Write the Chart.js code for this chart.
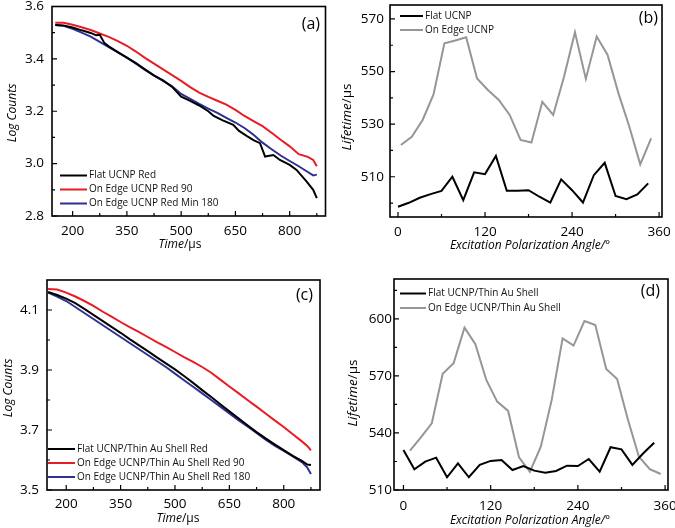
<!DOCTYPE html>
<html>
<head>
<meta charset="utf-8">
<script src="https://cdn.jsdelivr.net/npm/chart.js@4.4.1/dist/chart.umd.min.js"></script>
<style>
  html, body { margin: 0; padding: 0; background: #fff; }
  #wrap { position: relative; width: 675px; height: 528px; }
  canvas { position: absolute; }
</style>
</head>
<body>
<div id="wrap">
  <canvas id="chartA" width="337" height="264" style="left:0;top:0"></canvas>
  <canvas id="chartB" width="338" height="264" style="left:337px;top:0"></canvas>
  <canvas id="chartC" width="337" height="264" style="left:0;top:264px"></canvas>
  <canvas id="chartD" width="338" height="264" style="left:337px;top:264px"></canvas>
</div>
<script>
// (a) decay curves, bare UCNP
let timeA = [152, 175, 200, 225, 250, 275, 300, 325, 350, 375, 400, 425, 450, 475, 500, 525, 550, 575, 600, 625, 650, 675, 700, 725, 750, 775, 800, 825, 850, 865, 875];
let redA = [3.538, 3.538, 3.530, 3.521, 3.510, 3.497, 3.484, 3.468, 3.450, 3.428, 3.404, 3.382, 3.360, 3.338, 3.316, 3.292, 3.271, 3.255, 3.240, 3.225, 3.205, 3.182, 3.162, 3.143, 3.118, 3.091, 3.066, 3.036, 3.026, 3.014, 2.990];
let blueA = [3.529, 3.526, 3.515, 3.500, 3.485, 3.465, 3.445, 3.425, 3.405, 3.382, 3.358, 3.337, 3.316, 3.295, 3.266, 3.247, 3.228, 3.210, 3.194, 3.175, 3.157, 3.136, 3.110, 3.080, 3.055, 3.031, 3.010, 2.990, 2.968, 2.955, 2.958];
let timeFlatA = [152, 175, 200, 225, 250, 265, 275, 288, 300, 325, 350, 375, 400, 425, 450, 475, 500, 525, 550, 575, 590, 615, 644, 660, 681, 700, 718, 732, 755, 773, 800, 819, 847, 865, 875];
let flatA = [3.529, 3.527, 3.520, 3.509, 3.499, 3.490, 3.492, 3.460, 3.448, 3.426, 3.405, 3.384, 3.360, 3.336, 3.318, 3.293, 3.256, 3.240, 3.222, 3.200, 3.182, 3.165, 3.148, 3.125, 3.106, 3.090, 3.078, 3.027, 3.033, 3.014, 2.995, 2.976, 2.931, 2.900, 2.868];

// (b) lifetime vs polarization angle, bare UCNP
let angleFlatB = [0, 15, 30, 45, 60, 75, 90, 105, 120, 135, 150, 165, 180, 195, 210, 225, 240, 255, 270, 285, 300, 315, 330, 345];
let flatB = [498.6, 500.1, 502.0, 503.4, 504.6, 510.0, 501.1, 511.7, 511.0, 517.9, 504.7, 504.7, 504.9, 502.4, 500.2, 509.0, 504.9, 500.2, 510.6, 515.3, 502.7, 501.5, 503.3, 507.5];
let angleEdgeB = [4, 19, 34, 49, 64, 79, 94, 109, 124, 139, 154, 169, 184, 199, 214, 229, 244, 259, 274, 289, 304, 319, 334, 349];
let edgeB = [522.1, 525.2, 531.6, 541.3, 560.7, 561.8, 563.0, 547.4, 543.0, 539.2, 533.5, 524.0, 523.0, 538.5, 533.5, 548.1, 564.9, 547.2, 563.3, 556.3, 541.7, 529.0, 514.7, 524.6];

// (c) decay curves, thin Au shell
let timeC = [150, 175, 200, 225, 250, 275, 300, 325, 350, 375, 400, 425, 450, 475, 500, 525, 550, 575, 600, 625, 650, 675, 700, 725, 750, 775, 800, 825, 850, 865, 875];
let flatC = [4.160, 4.150, 4.138, 4.123, 4.104, 4.084, 4.064, 4.044, 4.024, 4.003, 3.983, 3.963, 3.942, 3.922, 3.902, 3.880, 3.857, 3.833, 3.810, 3.786, 3.762, 3.739, 3.716, 3.693, 3.672, 3.652, 3.633, 3.614, 3.597, 3.585, 3.583];
let redC = [4.170, 4.168, 4.158, 4.145, 4.130, 4.114, 4.095, 4.078, 4.060, 4.043, 4.027, 4.010, 3.993, 3.977, 3.960, 3.943, 3.927, 3.910, 3.891, 3.868, 3.845, 3.823, 3.800, 3.778, 3.755, 3.732, 3.710, 3.686, 3.662, 3.647, 3.632];
let blueC = [4.158, 4.145, 4.130, 4.110, 4.090, 4.070, 4.050, 4.030, 4.010, 3.990, 3.970, 3.950, 3.930, 3.910, 3.888, 3.866, 3.844, 3.822, 3.800, 3.778, 3.755, 3.733, 3.712, 3.690, 3.668, 3.648, 3.630, 3.612, 3.593, 3.575, 3.553];

// (d) lifetime vs polarization angle, thin Au shell
let angleFlatD = [0, 15, 30, 45, 60, 75, 90, 105, 120, 135, 150, 165, 180, 195, 210, 225, 240, 255, 270, 285, 300, 315, 330, 345];
let flatD = [531.1, 520.9, 524.9, 527.0, 516.7, 524.0, 516.7, 523.2, 525.3, 525.8, 520.5, 522.6, 520.2, 519.1, 520.0, 522.8, 522.6, 526.3, 519.6, 532.5, 531.4, 523.2, 529.3, 534.9];
let angleEdgeD = [9, 24, 39, 54, 69, 84, 99, 114, 129, 144, 159, 174, 189, 204, 219, 234, 249, 264, 279, 294, 309, 324, 339, 354];
let edgeD = [530.7, 537.7, 545.1, 571.1, 576.7, 595.4, 586.7, 567.9, 556.5, 551.6, 527.2, 519.6, 532.8, 557.4, 589.8, 586.0, 598.9, 596.8, 573.7, 568.4, 546.8, 527.5, 520.9, 518.4];

// tick values
let timeTicks = [200, 350, 500, 650, 800];
let timeMinor = [275, 425, 575, 725, 875];
let angleTicks = [0, 120, 240, 360];
let angleMinor = [60, 180, 300];
let logTicksA = [2.8, 3.0, 3.2, 3.4, 3.6];
let logMinorA = [2.9, 3.1, 3.3, 3.5];
let lifeTicksB = [510, 530, 550, 570];
let lifeMinorB = [500, 520, 540, 560];
let logTicksC = [3.5, 3.7, 3.9, 4.1];
let logMinorC = [3.6, 3.8, 4.0];
let lifeTicksD = [510, 540, 570, 600];
let lifeMinorD = [525, 555, 585, 615];

const RED = 'rgb(232, 28, 36)';
const BLUE = 'rgb(46, 49, 146)';
const BLACK = '#000';
const GRAY = 'rgb(150, 150, 150)';
const FONT = "'Open Sans', 'DejaVu Sans', sans-serif";

function pts(xs, ys) {
  return xs.map((x, i) => ({ x: x, y: ys[i] }));
}

function drawParts(ctx, parts, size) {
  // parts: [text, italic]
  let w = 0;
  parts.forEach(p => {
    ctx.font = (p[1] ? 'italic ' : '') + size + 'px ' + FONT;
    w += ctx.measureText(p[0]).width;
  });
  let x = -w / 2;
  parts.forEach(p => {
    ctx.font = (p[1] ? 'italic ' : '') + size + 'px ' + FONT;
    ctx.fillText(p[0], x, 0);
    x += ctx.measureText(p[0]).width;
  });
}

// frame, inward ticks, legend, axis titles and panel letter
const decor = {
  id: 'decor',
  afterDraw(chart, args, o) {
    const ctx = chart.ctx;
    const a = chart.chartArea;
    const xs = chart.scales.x, ys = chart.scales.y;
    ctx.save();
    ctx.strokeStyle = '#000';
    ctx.lineWidth = 1.6;
    ctx.strokeRect(a.left, a.top, a.right - a.left, a.bottom - a.top);

    ctx.lineWidth = 1.2;
    ctx.beginPath();
    o.xMajor.forEach(v => { let p = xs.getPixelForValue(v); ctx.moveTo(p, a.bottom); ctx.lineTo(p, a.bottom - 5); });
    o.xMinor.forEach(v => { let p = xs.getPixelForValue(v); ctx.moveTo(p, a.bottom); ctx.lineTo(p, a.bottom - 3); });
    o.yMajor.forEach(v => { let p = ys.getPixelForValue(v); ctx.moveTo(a.left, p); ctx.lineTo(a.left + 5, p); });
    o.yMinor.forEach(v => { let p = ys.getPixelForValue(v); ctx.moveTo(a.left, p); ctx.lineTo(a.left + 3, p); });
    ctx.stroke();

    // legend
    ctx.textBaseline = 'middle';
    ctx.textAlign = 'left';
    ctx.font = '10px ' + FONT;
    chart.data.datasets.forEach((ds, i) => {
      let y = o.legend.y + i * o.legend.dy;
      ctx.strokeStyle = ds.borderColor;
      ctx.lineWidth = 2;
      ctx.beginPath();
      ctx.moveTo(o.legend.x0, y);
      ctx.lineTo(o.legend.x1, y);
      ctx.stroke();
      ctx.fillStyle = '#111';
      ctx.fillText(ds.label, o.legend.x1 + 2, y);
    });

    // panel letter
    ctx.font = '16px ' + FONT;
    ctx.textAlign = 'right';
    ctx.fillStyle = '#000';
    ctx.fillText(o.letter[0], o.letter[1], o.letter[2]);

    // axis titles
    ctx.textAlign = 'left';
    ctx.save();
    ctx.translate(o.xTitle.x, o.xTitle.y);
    drawParts(ctx, o.xTitle.parts, o.xTitle.size);
    ctx.restore();
    ctx.save();
    ctx.translate(o.yTitle.x, o.yTitle.y);
    ctx.rotate(-Math.PI / 2);
    drawParts(ctx, o.yTitle.parts, o.yTitle.size);
    ctx.restore();
    ctx.restore();
  }
};

function makeChart(id, p) {
  return new Chart(document.getElementById(id), {
    type: 'line',
    data: { datasets: p.datasets },
    options: {
      responsive: false,
      animation: false,
      events: [],
      layout: { autoPadding: false, padding: { top: p.top, right: p.right, left: 0, bottom: 0 } },
      elements: { point: { radius: 0 }, line: { borderWidth: 2, tension: 0 } },
      plugins: {
        legend: { display: false },
        tooltip: { enabled: false },
        decor: p.decor
      },
      scales: {
        x: {
          type: 'linear',
          min: p.xMin, max: p.xMax,
          grid: { display: false, drawTicks: false },
          border: { display: false },
          afterBuildTicks: s => { s.ticks = p.xTicks.map(v => ({ value: v })); },
          afterFit: s => { s.height = p.xHeight; s.paddingLeft = 0; s.paddingRight = 0; },
          ticks: { autoSkip: false, maxRotation: 0, padding: p.xPad, color: '#000', font: { family: FONT, size: 13.5 } }
        },
        y: {
          type: 'linear',
          min: p.yMin, max: p.yMax,
          grid: { display: false, drawTicks: false },
          border: { display: false },
          afterBuildTicks: s => { s.ticks = p.yTicks.map(v => ({ value: v })); },
          afterFit: s => { s.width = p.yWidth; s.paddingTop = 0; s.paddingBottom = 0; },
          ticks: { autoSkip: false, padding: p.yPad, color: '#000', font: { family: FONT, size: 13.5 }, callback: p.yFmt }
        }
      }
    },
    plugins: [decor]
  });
}

makeChart('chartA', {
  datasets: [
    { label: 'Flat UCNP Red', data: pts(timeFlatA, flatA), borderColor: BLACK },
    { label: 'On Edge UCNP Red 90', data: pts(timeA, redA), borderColor: RED },
    { label: 'On Edge UCNP Red Min 180', data: pts(timeA, blueA), borderColor: BLUE }
  ],
  top: 6.5, right: 11.5, yWidth: 52, xHeight: 48,
  xMin: 143, xMax: 899, yMin: 2.8, yMax: 3.6,
  xTicks: timeTicks, yTicks: logTicksA, xPad: 7, yPad: 8,
  yFmt: v => v.toFixed(1),
  decor: {
    xMajor: timeTicks, xMinor: timeMinor, yMajor: logTicksA, yMinor: logMinorA,
    legend: { x0: 60, x1: 87, y: 175.5, dy: 14 },
    letter: ['(a)', 320, 24],
    xTitle: { x: 180, y: 245, size: 12, parts: [['Time', true], ['/μs', false]] },
    yTitle: { x: 12.5, y: 113, size: 12, parts: [['Log Counts', true]] }
  }
});

makeChart('chartB', {
  datasets: [
    { label: 'Flat UCNP', data: pts(angleFlatB, flatB), borderColor: BLACK },
    { label: 'On Edge UCNP', data: pts(angleEdgeB, edgeB), borderColor: GRAY }
  ],
  top: 5, right: 13, yWidth: 53, xHeight: 47,
  xMin: -11, xMax: 364, yMin: 494.7, yMax: 575.3,
  xTicks: angleTicks, yTicks: lifeTicksB, xPad: 7, yPad: 6,
  yFmt: v => String(v),
  decor: {
    xMajor: angleTicks, xMinor: angleMinor, yMajor: lifeTicksB, yMinor: lifeMinorB,
    legend: { x0: 63, x1: 86, y: 16, dy: 14 },
    letter: ['(b)', 321, 18.5],
    xTitle: { x: 193, y: 246, size: 12, parts: [['Excitation Polarization Angle/°', true]] },
    yTitle: { x: 10, y: 117, size: 13.5, parts: [['Lifetime', true], ['/μs', false]] }
  }
});

makeChart('chartC', {
  datasets: [
    { label: 'Flat UCNP/Thin Au Shell Red', data: pts(timeC, flatC), borderColor: BLACK },
    { label: 'On Edge UCNP/Thin Au Shell Red 90', data: pts(timeC, redC), borderColor: RED },
    { label: 'On Edge UCNP/Thin Au Shell Red 180', data: pts(timeC, blueC), borderColor: BLUE }
  ],
  top: 16, right: 17, yWidth: 47, xHeight: 38,
  xMin: 147, xMax: 900, yMin: 3.5, yMax: 4.2,
  xTicks: timeTicks, yTicks: logTicksC, xPad: 6, yPad: 8,
  yFmt: v => v.toFixed(1),
  decor: {
    xMajor: timeTicks, xMinor: timeMinor, yMajor: logTicksC, yMinor: logMinorC,
    legend: { x0: 48, x1: 75, y: 185, dy: 14 },
    letter: ['(c)', 313, 31.5],
    xTitle: { x: 178, y: 255, size: 12, parts: [['Time', true], ['/μs', false]] },
    yTitle: { x: 8.5, y: 124, size: 12, parts: [['Log Counts', true]] }
  }
});

makeChart('chartD', {
  datasets: [
    { label: 'Flat UCNP/Thin Au Shell', data: pts(angleFlatD, flatD), borderColor: BLACK },
    { label: 'On Edge UCNP/Thin Au Shell', data: pts(angleEdgeD, edgeD), borderColor: GRAY }
  ],
  top: 15, right: 7, yWidth: 57, xHeight: 38,
  xMin: -13, xMax: 364, yMin: 510, yMax: 621,
  xTicks: angleTicks, yTicks: lifeTicksD, xPad: 8, yPad: 2,
  yFmt: v => String(v),
  decor: {
    xMajor: angleTicks, xMinor: angleMinor, yMajor: lifeTicksD, yMinor: lifeMinorD,
    legend: { x0: 63, x1: 89, y: 29.5, dy: 14.5 },
    letter: ['(d)', 323, 27],
    xTitle: { x: 193, y: 257, size: 12, parts: [['Excitation Polarization Angle/°', true]] },
    yTitle: { x: 16, y: 129, size: 13.5, parts: [['Lifetime', true], ['/μs', false]] }
  }
});
</script>
</body>
</html>
